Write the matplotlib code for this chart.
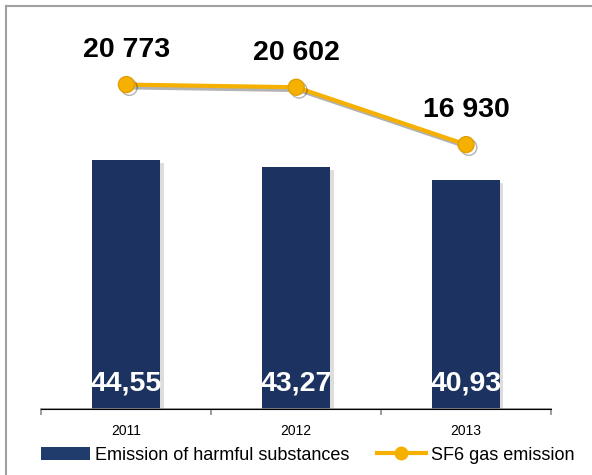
import matplotlib
matplotlib.use("Agg")
import matplotlib.pyplot as plt
import matplotlib.patheffects as pe
from matplotlib import font_manager
from matplotlib.lines import Line2D
from matplotlib.patches import Patch

years = ["2011", "2012", "2013"]
harmful = [44.55, 43.27, 40.93]
harmful_labels = ["44,55", "43,27", "40,93"]
sf6 = [20773, 20602, 16930]
sf6_labels = ["20 773", "20 602", "16 930"]

names = {f.name for f in font_manager.fontManager.ttflist}
narrow = "Liberation Sans Narrow" if "Liberation Sans Narrow" in names else "Liberation Sans"
plt.rcParams['font.family'] = ['Liberation Sans', 'DejaVu Sans']

navy = "#1c3361"
gold = "#f5b000"

fig = plt.figure(figsize=(5.92, 4.75), dpi=100)
ax = fig.add_axes([0.0701, 0.1389, 0.8606, 0.8253])
ax2 = ax.twinx()

x = list(range(len(years)))
shadow = [pe.SimplePatchShadow(offset=(2.5, -2.5), shadow_rgbFace="#aaaaaa", alpha=0.4), pe.Normal()]
bars = ax.bar(x, harmful, width=0.4, color=navy, zorder=2)
for b in bars:
    b.set_path_effects(shadow)
ax.set_ylim(0, 70)
ax.set_xlim(-0.5, 2.5)

for xi, lab in zip(x, harmful_labels):
    ax.text(xi, 4.6, lab, ha="center", va="center", color="white",
            fontsize=20.5, fontweight="bold", family=[narrow, 'DejaVu Sans'], zorder=3)

ax2.plot(x, sf6, color=gold, lw=3, marker="o", markersize=11.5,
         markeredgecolor="#e0a000", zorder=4,
         path_effects=[pe.SimpleLineShadow(offset=(2, -2), alpha=0.3), pe.Normal()])
ax2.set_ylim(0, 25100)
for xi, v, lab in zip(x, sf6, sf6_labels):
    ax2.annotate(lab, (xi, v), xytext=(0, 25), textcoords="offset points",
                 ha="center", va="center", fontsize=20.5, fontweight="bold",
                 family=[narrow, 'DejaVu Sans'], color="black")

for a in (ax, ax2):
    for s in ("top", "right", "left"):
        a.spines[s].set_visible(False)
    a.set_yticks([])
ax.spines["bottom"].set_color("#8c8c8c")
ax.spines["bottom"].set_linewidth(1.2)

ax.set_xticks(x)
ax.set_xticklabels(years, fontsize=10)
ax.tick_params(axis="x", which="major", length=0, pad=11)
ax.set_xticks([-0.5, 0.5, 1.5, 2.5], minor=True)
ax.tick_params(axis="x", which="minor", length=4, color="#8c8c8c", width=1.2, direction="out")

handles = [Patch(facecolor="#1f3c6c", edgecolor="none"),
           Line2D([], [], color=gold, lw=3, marker="o", markersize=9)]
fig.legend(handles, ["Emission of harmful substances", "SF6 gas emission"],
           loc="center", bbox_to_anchor=(0.52, 0.042), ncol=2, frameon=False,
           fontsize=13, handlelength=2.7, handleheight=0.75, handletextpad=0.3,
           columnspacing=1.5)

# frame around the chart (top and left only)
fig.add_artist(Line2D([6 / 592, 6 / 592], [0, 1 - 6 / 475], transform=fig.transFigure,
                      color="#a0a0a0", lw=1.5))
fig.add_artist(Line2D([6 / 592, 1], [1 - 6 / 475, 1 - 6 / 475], transform=fig.transFigure,
                      color="#a0a0a0", lw=1.5))

fig.savefig("out.png", dpi=100)
